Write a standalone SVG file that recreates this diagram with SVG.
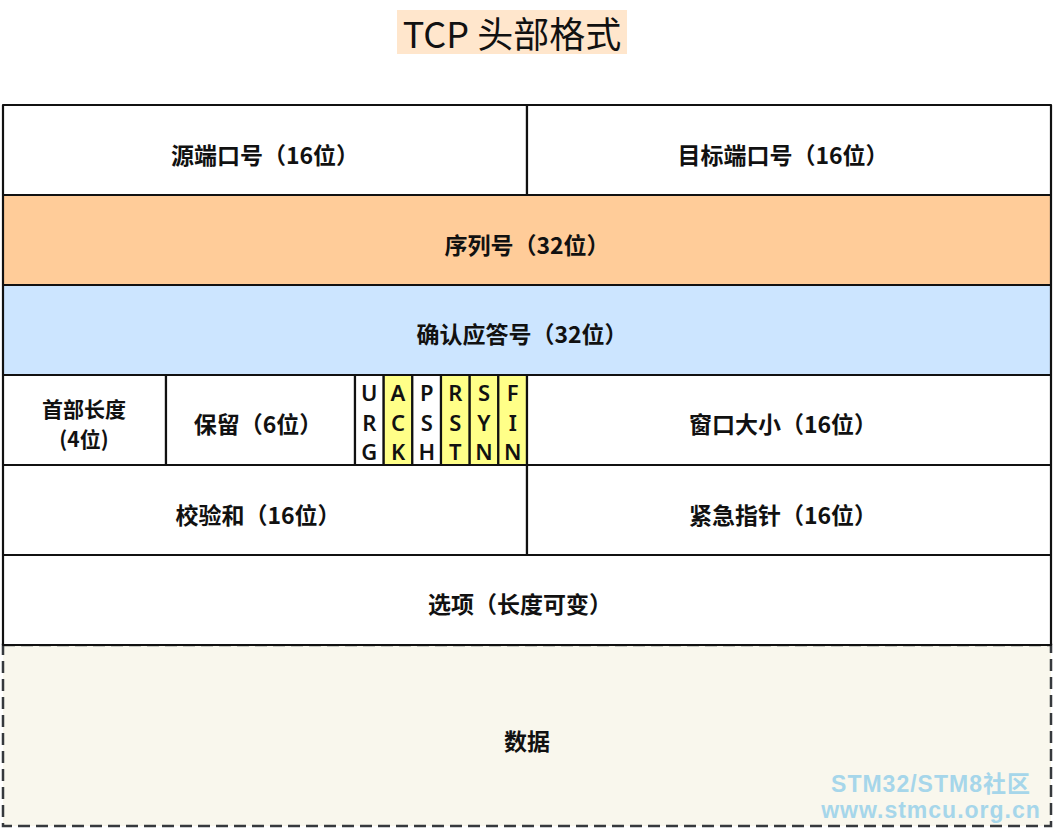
<svg xmlns="http://www.w3.org/2000/svg" width="1053" height="828" viewBox="0 0 1053 828">
<style>
.c{stroke:#111;stroke-width:2.2;stroke-linejoin:round}
.t{font-family:"Noto Sans CJK SC","Noto Sans",sans-serif;font-weight:bold;font-size:23px;fill:#111;text-anchor:middle;dominant-baseline:central}
.h{font-size:21px}
.f{font-family:"Noto Sans","Liberation Sans",sans-serif;font-weight:600;font-size:22px;fill:#111;text-anchor:middle;dominant-baseline:central}
.w{font-family:"Liberation Sans","Noto Sans CJK SC",sans-serif;font-weight:bold;font-size:23px;letter-spacing:1px;fill:#a6d6ea;text-anchor:middle}
</style>
<rect width="1053" height="828" fill="#ffffff"/>
<g id="title">
<rect x="397" y="10" width="230" height="44" fill="#ffe6cc"/>
<text x="512" y="32" style="font-family:'Noto Sans CJK SC','Noto Sans',sans-serif;font-size:36px;fill:#111;text-anchor:middle;dominant-baseline:central">TCP 头部格式</text>
</g>
<g id="data">
<rect x="3" y="645" width="1048" height="181" fill="#f9f7ed" stroke="#36393d" stroke-width="2.5" stroke-dasharray="12 6"/>
<text class="t" x="527" y="740">数据</text>
</g>
<g id="src-port"><rect class="c" x="3" y="105" width="524" height="90" fill="#fff"/><text class="t" x="265" y="154">源端口号（16位）</text></g>
<g id="dst-port"><rect class="c" x="527" y="105" width="524" height="90" fill="#fff"/><text class="t" x="783" y="154">目标端口号（16位）</text></g>
<g id="seq"><rect class="c" x="3" y="195" width="1048" height="90" fill="#ffcc99"/><text class="t" x="527" y="244">序列号（32位）</text></g>
<g id="ack"><rect class="c" x="3" y="285" width="1048" height="90" fill="#cce5ff"/><text class="t" x="522" y="333">确认应答号（32位）</text></g>
<g id="hlen"><rect class="c" x="3" y="375" width="163" height="90" fill="#fff"/><text class="t h" x="84" y="408">首部长度</text><text class="t h" x="84" y="438">(4位)</text></g>
<g id="reserved"><rect class="c" x="166" y="375" width="189" height="90" fill="#fff"/><text class="t" x="258" y="423">保留（6位）</text></g>
<g id="urg"><rect class="c" x="355" y="375" width="28.7" height="90" fill="#fff"/><text class="f" x="369.3" y="392">U</text><text class="f" x="369.3" y="422">R</text><text class="f" x="369.3" y="451">G</text></g>
<g id="ackf"><rect class="c" x="383.7" y="375" width="28.7" height="90" fill="#ffff88"/><text class="f" x="398" y="392">A</text><text class="f" x="398" y="422">C</text><text class="f" x="398" y="451">K</text></g>
<g id="psh"><rect class="c" x="412.3" y="375" width="28.7" height="90" fill="#fff"/><text class="f" x="426.7" y="392">P</text><text class="f" x="426.7" y="422">S</text><text class="f" x="426.7" y="451">H</text></g>
<g id="rst"><rect class="c" x="441" y="375" width="28.7" height="90" fill="#ffff88"/><text class="f" x="455.3" y="392">R</text><text class="f" x="455.3" y="422">S</text><text class="f" x="455.3" y="451">T</text></g>
<g id="syn"><rect class="c" x="469.7" y="375" width="28.7" height="90" fill="#ffff88"/><text class="f" x="484" y="392">S</text><text class="f" x="484" y="422">Y</text><text class="f" x="484" y="451">N</text></g>
<g id="fin"><rect class="c" x="498.3" y="375" width="28.7" height="90" fill="#ffff88"/><text class="f" x="512.7" y="392">F</text><text class="f" x="512.7" y="422">I</text><text class="f" x="512.7" y="451">N</text></g>
<g id="window"><rect class="c" x="527" y="375" width="524" height="90" fill="#fff"/><text class="t" x="783" y="423">窗口大小（16位）</text></g>
<g id="checksum"><rect class="c" x="3" y="465" width="524" height="90" fill="#fff"/><text class="t" x="258" y="514">校验和（16位）</text></g>
<g id="urgent"><rect class="c" x="527" y="465" width="524" height="90" fill="#fff"/><text class="t" x="783" y="514">紧急指针（16位）</text></g>
<g id="options"><rect class="c" x="3" y="555" width="1048" height="90" fill="#fff"/><text class="t" x="520" y="603">选项（长度可变）</text></g>
<g id="connectors"></g>
<g id="watermark">
<text class="w" x="931" y="792">STM32/STM8社区</text>
<text class="w" x="931" y="818">www.stmcu.org.cn</text>
</g>
</svg>
